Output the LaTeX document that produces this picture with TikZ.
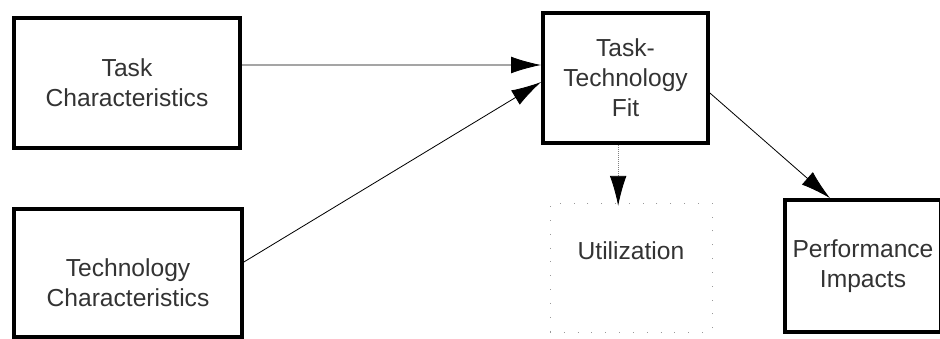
\documentclass[tikz,border=0pt]{standalone}
\usepackage{fontspec}
\setmainfont{Liberation Sans}
\usetikzlibrary{arrows.meta}

\begin{document}
\begin{tikzpicture}[x=0.03cm,y=-0.03cm,
  box/.style = {draw, line width=3.2pt, inner sep=0pt},
  txt/.style = {align=center, text=black!80, inner sep=0pt, font=\fontsize{21}{25.5}\selectfont},
  ghost/.style = {draw=black!40, dash pattern=on 0.8pt off 11pt, line width=0.8pt, inner sep=0pt},
  arr/.style = {-{Latex[length=0.9cm,width=0.5cm,black]}, line width=0.7pt}]
        \useasboundingbox (0,0) rectangle (940,339);
        \node[box, txt, minimum width=6.78cm, minimum height=3.9cm] (task) at (127,83) {Task\\Characteristics};
        \node[box, minimum width=6.84cm, minimum height=3.84cm,
          label={[txt, yshift=-0.3cm]center:Technology\\Characteristics}] (tech) at (128,273) {};
        \node[box, txt, minimum width=4.95cm, minimum height=3.9cm] (ttf) at (625.5,78) {Task-\\Technology\\Fit};
        \node[ghost, minimum width=4.86cm, minimum height=3.87cm,
          label={[txt, yshift=0.5cm]center:Utilization}] (util) at (631,267.5) {};
        \node[box, txt, minimum width=4.7cm, minimum height=3.96cm] (perf) at (863,266) {Performance\\Impacts};
        \draw[arr] ([yshift=0.54cm]task.east) -- ([yshift=0.39cm]ttf.west);
        \draw[arr] ([yshift=0.33cm]tech.east) -- ([yshift=-0.12cm]ttf.west);
        \draw[arr, black!50, densely dotted] ([xshift=-0.22cm]ttf.south) -- ([xshift=-0.22cm,yshift=-0.1cm]ttf.south |- util.north);
        \draw[arr] ([yshift=-0.45cm]ttf.east) -- ([xshift=-0.99cm]perf.north);
\end{tikzpicture}
\end{document}
